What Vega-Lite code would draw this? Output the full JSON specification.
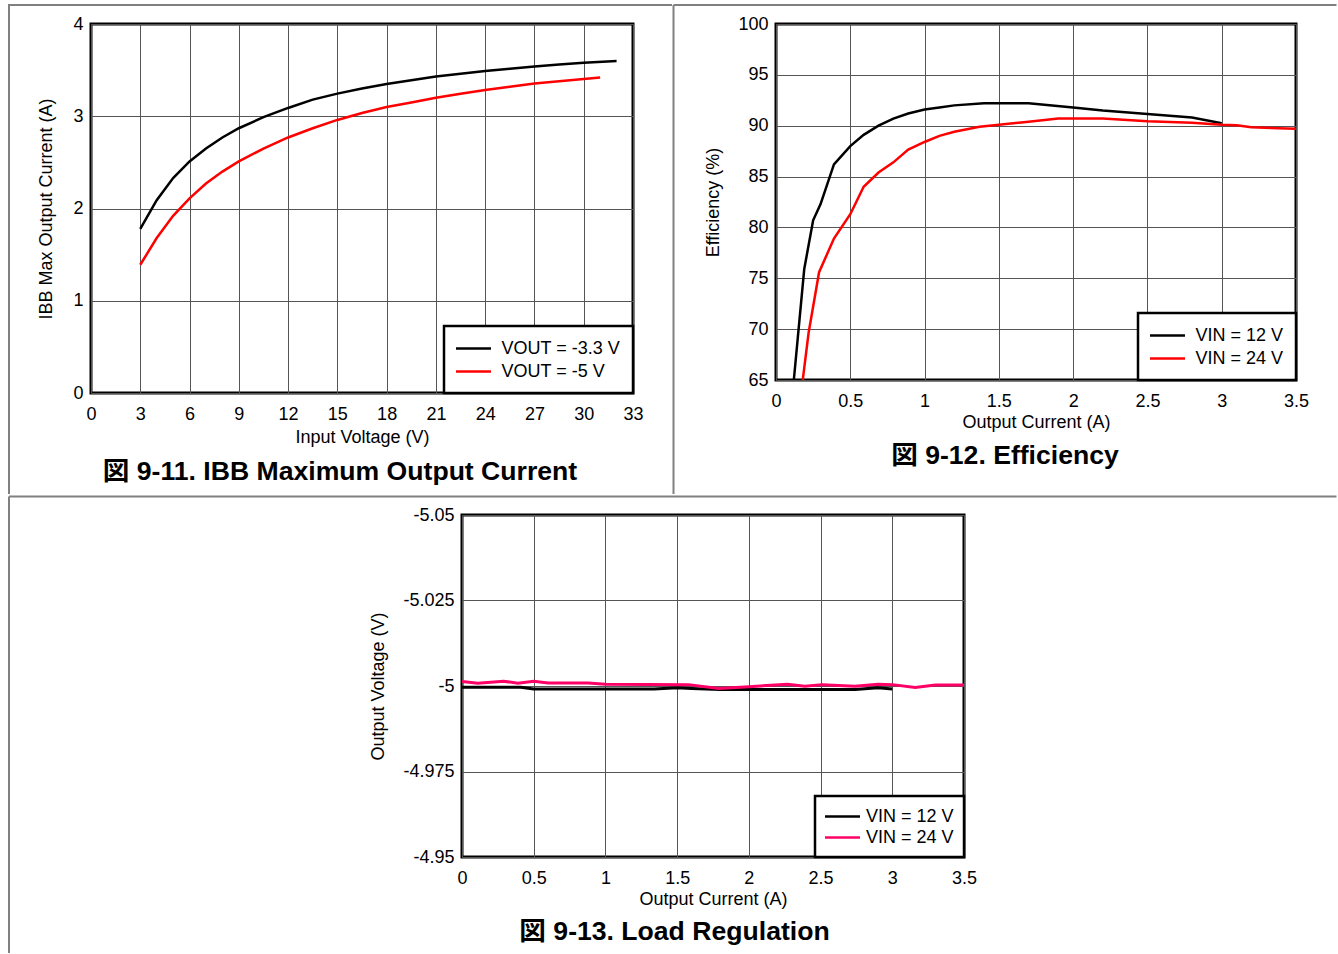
{
  "$schema": "https://vega.github.io/schema/vega-lite/v6.json",
  "padding": {"left": 6, "top": 2, "right": 0, "bottom": 0},
  "background": "white",
  "columns": 1,
  "align": "none",
  "spacing": -3,
  "resolve": {"scale": {"color": "independent"}, "legend": {"color": "independent"}},
  "concat": [
    {
      "spacing": -3,
      "resolve": {"scale": {"color": "independent"}, "legend": {"color": "independent"}},
      "hconcat": [
        {
          "width": 542,
          "height": 369,
          "title": {"text": "図 9-11. IBB Maximum Output Current", "offset": -36},
          "data": {"values": [
            {"input_voltage": 3, "current": 1.78, "series": "VOUT = -3.3 V"},
            {"input_voltage": 4, "current": 2.09, "series": "VOUT = -3.3 V"},
            {"input_voltage": 5, "current": 2.33, "series": "VOUT = -3.3 V"},
            {"input_voltage": 6, "current": 2.51, "series": "VOUT = -3.3 V"},
            {"input_voltage": 7, "current": 2.65, "series": "VOUT = -3.3 V"},
            {"input_voltage": 8, "current": 2.77, "series": "VOUT = -3.3 V"},
            {"input_voltage": 9, "current": 2.87, "series": "VOUT = -3.3 V"},
            {"input_voltage": 10.5, "current": 2.99, "series": "VOUT = -3.3 V"},
            {"input_voltage": 12, "current": 3.09, "series": "VOUT = -3.3 V"},
            {"input_voltage": 13.5, "current": 3.18, "series": "VOUT = -3.3 V"},
            {"input_voltage": 15, "current": 3.245, "series": "VOUT = -3.3 V"},
            {"input_voltage": 16.5, "current": 3.3, "series": "VOUT = -3.3 V"},
            {"input_voltage": 18, "current": 3.35, "series": "VOUT = -3.3 V"},
            {"input_voltage": 19.5, "current": 3.39, "series": "VOUT = -3.3 V"},
            {"input_voltage": 21, "current": 3.43, "series": "VOUT = -3.3 V"},
            {"input_voltage": 22.5, "current": 3.46, "series": "VOUT = -3.3 V"},
            {"input_voltage": 24, "current": 3.49, "series": "VOUT = -3.3 V"},
            {"input_voltage": 25.5, "current": 3.515, "series": "VOUT = -3.3 V"},
            {"input_voltage": 27, "current": 3.54, "series": "VOUT = -3.3 V"},
            {"input_voltage": 28.5, "current": 3.56, "series": "VOUT = -3.3 V"},
            {"input_voltage": 30, "current": 3.58, "series": "VOUT = -3.3 V"},
            {"input_voltage": 32, "current": 3.6, "series": "VOUT = -3.3 V"},
            {"input_voltage": 3, "current": 1.39, "series": "VOUT = -5 V"},
            {"input_voltage": 4, "current": 1.68, "series": "VOUT = -5 V"},
            {"input_voltage": 5, "current": 1.92, "series": "VOUT = -5 V"},
            {"input_voltage": 6, "current": 2.11, "series": "VOUT = -5 V"},
            {"input_voltage": 7, "current": 2.27, "series": "VOUT = -5 V"},
            {"input_voltage": 8, "current": 2.4, "series": "VOUT = -5 V"},
            {"input_voltage": 9, "current": 2.51, "series": "VOUT = -5 V"},
            {"input_voltage": 10.5, "current": 2.65, "series": "VOUT = -5 V"},
            {"input_voltage": 12, "current": 2.77, "series": "VOUT = -5 V"},
            {"input_voltage": 13.5, "current": 2.87, "series": "VOUT = -5 V"},
            {"input_voltage": 15, "current": 2.96, "series": "VOUT = -5 V"},
            {"input_voltage": 16.5, "current": 3.035, "series": "VOUT = -5 V"},
            {"input_voltage": 18, "current": 3.1, "series": "VOUT = -5 V"},
            {"input_voltage": 19.5, "current": 3.15, "series": "VOUT = -5 V"},
            {"input_voltage": 21, "current": 3.2, "series": "VOUT = -5 V"},
            {"input_voltage": 22.5, "current": 3.245, "series": "VOUT = -5 V"},
            {"input_voltage": 24, "current": 3.285, "series": "VOUT = -5 V"},
            {"input_voltage": 25.5, "current": 3.32, "series": "VOUT = -5 V"},
            {"input_voltage": 27, "current": 3.355, "series": "VOUT = -5 V"},
            {"input_voltage": 28.5, "current": 3.38, "series": "VOUT = -5 V"},
            {"input_voltage": 30, "current": 3.405, "series": "VOUT = -5 V"},
            {"input_voltage": 31, "current": 3.42, "series": "VOUT = -5 V"}
          ]},
          "layer": [
            {
              "mark": {"type": "line", "strokeWidth": 2.5},
              "encoding": {
                "x": {"field": "input_voltage", "type": "quantitative",
                      "scale": {"domain": [0, 33], "nice": false, "zero": false},
                      "axis": {"values": [0, 3, 6, 9, 12, 15, 18, 21, 24, 27, 30, 33], "title": "Input Voltage (V)", "labelExpr": "'' + datum.value", "titlePadding": 5}},
                "y": {"field": "current", "type": "quantitative",
                      "scale": {"domain": [0, 4], "nice": false, "zero": false},
                      "axis": {"values": [0, 1, 2, 3, 4], "title": "IBB Max Output Current (A)", "labelExpr": "'' + datum.value", "titlePadding": 17}},
                "color": {"field": "series", "type": "nominal",
                          "scale": {"domain": ["VOUT = -3.3 V", "VOUT = -5 V"], "range": ["#000000", "#ff0000"]},
                          "legend": {"title": null, "symbolType": "M-1.944,0H1.944"}}
              }
            },
            {
              "data": {"values": [{}]},
              "mark": {"type": "rule", "color": "#808080", "strokeWidth": 2, "strokeCap": "square"},
              "encoding": {"x": {"datum": -4.99262}, "x2": {"datum": 35.3137}, "y": {"datum": 4.20596}}
            },
            {
              "data": {"values": [{}]},
              "mark": {"type": "rule", "color": "#808080", "strokeWidth": 2},
              "encoding": {"x": {"datum": -4.99262}, "y": {"datum": 4.20596}, "y2": {"datum": -1.09485}}
            }
          ]
        },
        {
          "width": 520,
          "height": 356,
          "title": {"text": "図 9-12. Efficiency", "offset": -52},
          "data": {"values": [
            {"output_current": 0.12, "efficiency": 65, "series": "VIN = 12 V"},
            {"output_current": 0.19, "efficiency": 75.9, "series": "VIN = 12 V"},
            {"output_current": 0.25, "efficiency": 80.7, "series": "VIN = 12 V"},
            {"output_current": 0.3, "efficiency": 82.3, "series": "VIN = 12 V"},
            {"output_current": 0.39, "efficiency": 86.2, "series": "VIN = 12 V"},
            {"output_current": 0.5, "efficiency": 88.0, "series": "VIN = 12 V"},
            {"output_current": 0.59, "efficiency": 89.1, "series": "VIN = 12 V"},
            {"output_current": 0.69, "efficiency": 90.0, "series": "VIN = 12 V"},
            {"output_current": 0.79, "efficiency": 90.7, "series": "VIN = 12 V"},
            {"output_current": 0.89, "efficiency": 91.2, "series": "VIN = 12 V"},
            {"output_current": 1.0, "efficiency": 91.6, "series": "VIN = 12 V"},
            {"output_current": 1.1, "efficiency": 91.8, "series": "VIN = 12 V"},
            {"output_current": 1.2, "efficiency": 92.0, "series": "VIN = 12 V"},
            {"output_current": 1.4, "efficiency": 92.2, "series": "VIN = 12 V"},
            {"output_current": 1.7, "efficiency": 92.2, "series": "VIN = 12 V"},
            {"output_current": 2.0, "efficiency": 91.8, "series": "VIN = 12 V"},
            {"output_current": 2.2, "efficiency": 91.5, "series": "VIN = 12 V"},
            {"output_current": 2.5, "efficiency": 91.15, "series": "VIN = 12 V"},
            {"output_current": 2.8, "efficiency": 90.8, "series": "VIN = 12 V"},
            {"output_current": 3.0, "efficiency": 90.25, "series": "VIN = 12 V"},
            {"output_current": 0.18, "efficiency": 65, "series": "VIN = 24 V"},
            {"output_current": 0.22, "efficiency": 69.7, "series": "VIN = 24 V"},
            {"output_current": 0.29, "efficiency": 75.6, "series": "VIN = 24 V"},
            {"output_current": 0.39, "efficiency": 78.9, "series": "VIN = 24 V"},
            {"output_current": 0.5, "efficiency": 81.3, "series": "VIN = 24 V"},
            {"output_current": 0.59, "efficiency": 84.0, "series": "VIN = 24 V"},
            {"output_current": 0.69, "efficiency": 85.4, "series": "VIN = 24 V"},
            {"output_current": 0.79, "efficiency": 86.4, "series": "VIN = 24 V"},
            {"output_current": 0.89, "efficiency": 87.65, "series": "VIN = 24 V"},
            {"output_current": 1.0, "efficiency": 88.4, "series": "VIN = 24 V"},
            {"output_current": 1.1, "efficiency": 89.0, "series": "VIN = 24 V"},
            {"output_current": 1.2, "efficiency": 89.4, "series": "VIN = 24 V"},
            {"output_current": 1.37, "efficiency": 89.9, "series": "VIN = 24 V"},
            {"output_current": 1.5, "efficiency": 90.1, "series": "VIN = 24 V"},
            {"output_current": 1.7, "efficiency": 90.4, "series": "VIN = 24 V"},
            {"output_current": 1.9, "efficiency": 90.7, "series": "VIN = 24 V"},
            {"output_current": 2.2, "efficiency": 90.7, "series": "VIN = 24 V"},
            {"output_current": 2.5, "efficiency": 90.45, "series": "VIN = 24 V"},
            {"output_current": 2.8, "efficiency": 90.3, "series": "VIN = 24 V"},
            {"output_current": 3.0, "efficiency": 90.1, "series": "VIN = 24 V"},
            {"output_current": 3.1, "efficiency": 90.05, "series": "VIN = 24 V"},
            {"output_current": 3.2, "efficiency": 89.85, "series": "VIN = 24 V"},
            {"output_current": 3.5, "efficiency": 89.7, "series": "VIN = 24 V"}
          ]},
          "layer": [
            {
              "mark": {"type": "line", "strokeWidth": 2.5},
              "encoding": {
                "x": {"field": "output_current", "type": "quantitative",
                      "scale": {"domain": [0, 3.5], "nice": false, "zero": false},
                      "axis": {"values": [0, 0.5, 1, 1.5, 2, 2.5, 3, 3.5], "title": "Output Current (A)", "labelExpr": "'' + datum.value"}},
                "y": {"field": "efficiency", "type": "quantitative",
                      "scale": {"domain": [65, 100], "nice": false, "zero": false},
                      "axis": {"values": [65, 70, 75, 80, 85, 90, 95, 100], "title": "Efficiency (%)", "labelExpr": "'' + datum.value"}},
                "color": {"field": "series", "type": "nominal",
                          "scale": {"domain": ["VIN = 12 V", "VIN = 24 V"], "range": ["#000000", "#ff0000"]},
                          "legend": {"title": null, "symbolType": "M-1.944,0H1.944"}}
              }
            },
            {
              "data": {"values": [{}]},
              "mark": {"type": "rule", "color": "#808080", "strokeWidth": 2},
              "encoding": {"x": {"datum": -0.6899}, "y": {"datum": 101.868}, "y2": {"datum": 53.793}}
            },
            {
              "data": {"values": [{}]},
              "mark": {"type": "rule", "color": "#808080", "strokeWidth": 2},
              "encoding": {"x": {"datum": -0.6899}, "x2": {"datum": 3.7726}, "y": {"datum": 101.868}}
            }
          ]
        }
      ]
    },
    {
      "spacing": -4,
      "resolve": {"scale": {"color": "independent"}, "legend": {"color": "independent"}},
      "hconcat": [
        {
          "width": 100,
          "height": 342,
          "view": {"stroke": null},
          "data": {"values": [{}]},
          "layer": [
            {
              "mark": {"type": "rule", "color": "#808080", "strokeWidth": 2},
              "encoding": {
                "x": {"datum": -82, "type": "quantitative", "scale": {"domain": [0, 100], "nice": false, "zero": false}, "axis": null},
                "x2": {"datum": 209},
                "y": {"datum": -18.5, "type": "quantitative", "scale": {"domain": [0, 342], "nice": false, "zero": false, "reverse": true}, "axis": null}
              }
            },
            {
              "mark": {"type": "rule", "color": "#808080", "strokeWidth": 2},
              "encoding": {
                "x": {"datum": -82, "type": "quantitative", "axis": null},
                "y": {"datum": -18.5, "type": "quantitative", "axis": null},
                "y2": {"datum": 438}
              }
            }
          ]
        },
        {
          "width": 502,
          "height": 342,
          "title": {"text": "図 9-13. Load Regulation", "offset": 11, "frame": "group", "dx": -38.5},
          "data": {"values": [
            {"output_current": 0, "output_voltage": -4.9996, "series": "VIN = 12 V"},
            {"output_current": 0.41, "output_voltage": -4.9996, "series": "VIN = 12 V"},
            {"output_current": 0.5, "output_voltage": -4.9991, "series": "VIN = 12 V"},
            {"output_current": 1.34, "output_voltage": -4.9991, "series": "VIN = 12 V"},
            {"output_current": 1.5, "output_voltage": -4.9995, "series": "VIN = 12 V"},
            {"output_current": 1.6, "output_voltage": -4.9993, "series": "VIN = 12 V"},
            {"output_current": 1.8, "output_voltage": -4.999, "series": "VIN = 12 V"},
            {"output_current": 2.74, "output_voltage": -4.999, "series": "VIN = 12 V"},
            {"output_current": 2.9, "output_voltage": -4.9995, "series": "VIN = 12 V"},
            {"output_current": 3.0, "output_voltage": -4.9991, "series": "VIN = 12 V"},
            {"output_current": 0, "output_voltage": -5.0013, "series": "VIN = 24 V"},
            {"output_current": 0.11, "output_voltage": -5.0008, "series": "VIN = 24 V"},
            {"output_current": 0.29, "output_voltage": -5.0014, "series": "VIN = 24 V"},
            {"output_current": 0.39, "output_voltage": -5.0008, "series": "VIN = 24 V"},
            {"output_current": 0.5, "output_voltage": -5.0014, "series": "VIN = 24 V"},
            {"output_current": 0.6, "output_voltage": -5.0009, "series": "VIN = 24 V"},
            {"output_current": 0.88, "output_voltage": -5.0009, "series": "VIN = 24 V"},
            {"output_current": 1.0, "output_voltage": -5.0005, "series": "VIN = 24 V"},
            {"output_current": 1.58, "output_voltage": -5.0004, "series": "VIN = 24 V"},
            {"output_current": 1.79, "output_voltage": -4.9993, "series": "VIN = 24 V"},
            {"output_current": 2.0, "output_voltage": -4.9998, "series": "VIN = 24 V"},
            {"output_current": 2.27, "output_voltage": -5.0005, "series": "VIN = 24 V"},
            {"output_current": 2.39, "output_voltage": -4.9999, "series": "VIN = 24 V"},
            {"output_current": 2.51, "output_voltage": -5.0004, "series": "VIN = 24 V"},
            {"output_current": 2.74, "output_voltage": -4.9999, "series": "VIN = 24 V"},
            {"output_current": 2.9, "output_voltage": -5.0005, "series": "VIN = 24 V"},
            {"output_current": 3.0, "output_voltage": -5.0004, "series": "VIN = 24 V"},
            {"output_current": 3.16, "output_voltage": -4.9996, "series": "VIN = 24 V"},
            {"output_current": 3.3, "output_voltage": -5.0003, "series": "VIN = 24 V"},
            {"output_current": 3.5, "output_voltage": -5.0003, "series": "VIN = 24 V"}
          ]},
          "layer": [
            {
              "mark": {"type": "line", "strokeWidth": 3},
              "encoding": {
                "x": {"field": "output_current", "type": "quantitative",
                      "scale": {"domain": [0, 3.5], "nice": false, "zero": false},
                      "axis": {"values": [0, 0.5, 1, 1.5, 2, 2.5, 3, 3.5], "title": "Output Current (A)", "labelExpr": "'' + datum.value"}},
                "y": {"field": "output_voltage", "type": "quantitative",
                      "scale": {"domain": [-5.05, -4.95], "nice": false, "zero": false, "reverse": true},
                      "axis": {"values": [-5.05, -5.025, -5, -4.975, -4.95], "title": "Output Voltage (V)", "labelExpr": "'' + datum.value"}},
                "color": {"field": "series", "type": "nominal",
                          "scale": {"domain": ["VIN = 12 V", "VIN = 24 V"], "range": ["#000000", "#ff0066"]},
                          "legend": {"title": null, "symbolType": "M-1.944,0H1.944", "labelOffset": 13, "padding": 10, "rowPadding": 1}}
              }
            },
            {
              "data": {"values": [{}]},
              "mark": {"type": "rule", "color": "#808080", "strokeWidth": 2},
              "encoding": {"x": {"datum": -1.12948}, "x2": {"datum": 6.09711}, "y": {"datum": -5.055409}}
            }
          ]
        }
      ]
    }
  ],
  "config": {
    "font": "Liberation Sans",
    "view": {"stroke": "#000000", "strokeWidth": 3},
    "axis": {
      "grid": true, "gridColor": "#555555", "gridWidth": 1, "gridOpacity": 1,
      "domain": false, "ticks": false, "tickSize": 0,
      "labelFont": "Liberation Sans", "labelFontSize": 18, "labelColor": "#000000",
      "labelFlush": false, "labelOverlap": false,
      "titleFont": "Liberation Sans", "titleFontSize": 18, "titleFontWeight": "normal", "titleColor": "#000000"
    },
    "axisX": {"labelPadding": 12, "titlePadding": 3},
    "axisY": {"labelPadding": 8, "titlePadding": 15},
    "legend": {
      "orient": "bottom-right", "offset": 0,
      "strokeColor": "#000000", "strokeWidth": 2.5, "fillColor": "#ffffff",
      "padding": 12, "rowPadding": 3,
      "labelFont": "Liberation Sans", "labelFontSize": 18, "labelColor": "#000000", "labelOffset": 17.5,
      "symbolSize": 324, "symbolStrokeWidth": 2.5, "symbolOffset": 7
    },
    "title": {
      "font": "Liberation Sans, Noto Sans CJK JP", "fontSize": 26.6, "fontWeight": "bold", "color": "#000000",
      "orient": "bottom", "anchor": "middle", "frame": "bounds", "baseline": "middle"
    }
  }
}
